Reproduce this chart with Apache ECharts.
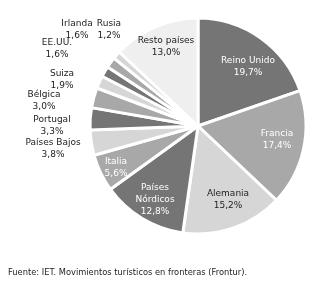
<!DOCTYPE html>
<html><head><meta charset="utf-8">
<script src="https://cdn.jsdelivr.net/npm/echarts@6/dist/echarts.min.js"></script>
<style>html,body{margin:0;padding:0;background:#fff}#c{width:328px;height:286px}</style>
</head><body><div id="c"></div>
<script>
const categories = ['Reino Unido','Francia','Alemania','Países\nNórdicos','Italia','Países Bajos','Portugal','Bélgica','Suiza','EE.UU.','Irlanda','Rusia','Resto países'];
const values = [19.7,17.4,15.2,12.8,5.6,3.8,3.3,3.0,1.9,1.6,1.6,1.2,13.0];
const valueLabels = ['19,7%','17,4%','15,2%','12,8%','5,6%','3,8%','3,3%','3,0%','1,9%','1,6%','1,6%','1,2%','13,0%'];
const colors = ['#757575','#a8a8a8','#d6d6d6','#757575','#a8a8a8','#d6d6d6','#757575','#a8a8a8','#d6d6d6','#757575','#a8a8a8','#d6d6d6','#efefef'];
const textColors = ['#fff','#fff','#222','#fff','#fff','#222','#222','#222','#222','#222','#222','#222','#222'];
// label centre positions (px)
const labelPos = [[248,67],[277,140],[228,200],[155,200],[116,168],[53,149],[52,126],[44,101],[62,80],[57,49],[77,30],[109,30],[166,47]];

const chart = echarts.init(document.getElementById('c'), null, {renderer:'canvas'});
chart.setOption({
  animation:false,
  graphic:[{type:'text',left:8,top:269,style:{text:'Fuente: IET. Movimientos turísticos en fronteras (Frontur).',font:'8.3px "DejaVu Sans"',fill:'#222'}}],
  series:[{
    type:'pie',
    center:[198,126],
    radius:[0,108],
    startAngle:90,
    clockwise:true,
    avoidLabelOverlap:false,
    itemStyle:{borderColor:'#fff',borderWidth:3},
    labelLine:{show:false},
    label:{show:true,position:'inside',fontFamily:'DejaVu Sans',fontSize:9,lineHeight:12,align:'center',
      formatter:p=>p.name+'\n'+valueLabels[p.dataIndex]},
    labelLayout:function(p){const q=labelPos[p.dataIndex];return {x:q[0],y:q[1],align:'center',verticalAlign:'middle'};},
    data:categories.map((n,i)=>({name:n,value:values[i],itemStyle:{color:colors[i]},label:{color:textColors[i]}}))
  }]
});
</script></body></html>
